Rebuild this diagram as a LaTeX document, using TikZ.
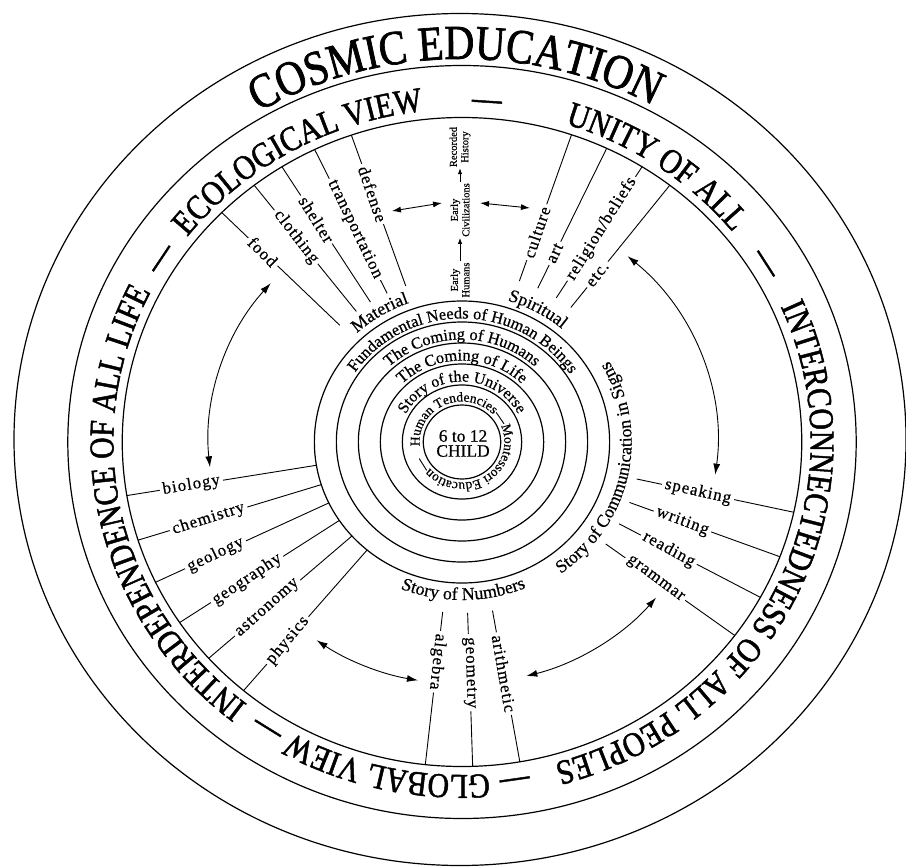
\documentclass[tikz,border=0pt]{standalone}
\usepackage{fontspec}
\setmainfont{Liberation Serif}[FakeBold=0.5]
\newfontfamily\bandfont[FakeStretch=0.85,FakeBold=1.4]{Liberation Serif}
\newfontfamily\spokefont[LetterSpace=6,FakeBold=0.5]{Liberation Serif}
\usetikzlibrary{decorations.text,arrows.meta}

\newcommand\fCosmic{\bandfont\fontsize{49}{50}\selectfont}
\newcommand\fBand{\bandfont\fontsize{35}{37}\selectfont}
\newcommand\fRing{\fontsize{16.5}{17}\selectfont}
\newcommand\fUniv{\fontsize{16}{17}\selectfont}
\newcommand\fTend{\fontsize{13.5}{14}\selectfont}
\newcommand\fMid{\fontsize{18}{19}\selectfont}
\newcommand\fChild{\fontsize{17.5}{15}\selectfont}
\newcommand\fSpoke{\spokefont\fontsize{17}{18}\selectfont}
\newcommand\fTiny{\fontsize{10.5}{11.5}\selectfont}

% clockwise text (tops outward): font, text, centre angle, half span, radius
\newcommand\cwtext[5]{%
  \path[decorate, decoration={text along path, text={|#1|#2}, text align=center}]
    ({#3+#4}:#5) arc[start angle={#3+#4}, end angle={#3-#4}, radius=#5];}
% counter-clockwise text (tops inward)
\newcommand\ccwtext[5]{%
  \path[decorate, decoration={text along path, text={|#1|#2}, text align=center}]
    ({#3-#4}:#5) arc[start angle={#3-#4}, end angle={#3+#4}, radius=#5];}

\begin{document}
\begin{tikzpicture}[x=1bp,y=1bp,
  ring/.style={line width=1.2bp},
  spokeline/.style={line width=0.9bp},
  spk/.style={font=\fSpoke, sloped, allow upside down, fill=white, inner xsep=3bp, inner ysep=0.5bp},
  bigarrow/.style={line width=0.9bp, {Latex[length=11bp,width=7bp]}-{Latex[length=11bp,width=7bp]}},
  dblarrow/.style={line width=0.9bp, {Latex[length=9bp,width=6bp]}-{Latex[length=9bp,width=6bp]}},
  smallarrow/.style={line width=0.8bp, -{Latex[length=6bp,width=4.5bp]}},
  hist/.style={font=\fTiny, rotate=90, align=center, inner sep=1bp},
]
\useasboundingbox (0,0) rectangle (906,-868);
\fill[white] (0,0) rectangle (906,-868);
\begin{scope}[shift={(462,-442)}, xscale=1.047]
  % ---- outer rings
  \draw[ring] (-1.9,2.5) circle[radius=426];
  \draw[ring] (0,0) circle[radius=376.5];
  \draw[ring] (0,0) circle[radius=324.5];
  % ---- inner rings
  \foreach \r in {141,120,99,78,57,37} \draw[ring] (0,0) circle[radius=\r];

  % ---- band texts
  \cwtext{\fCosmic}{COSMIC EDUCATION}{91}{75}{383}
  \cwtext{\fBand}{ECOLOGICAL VIEW}{119.5}{40}{333}
  \cwtext{\fBand}{—}{86}{8}{333}
  \cwtext{\fBand}{UNITY OF ALL}{55.7}{30}{333}
  \cwtext{\fBand}{—}{31.5}{8}{333}
  \cwtext{\fBand}{INTERCONNECTEDNESS OF ALL PEOPLES}{-25.1}{65}{333}
  \cwtext{\fBand}{—}{-81.5}{8}{333}
  \cwtext{\fBand}{GLOBAL VIEW}{-102.5}{30}{333}
  \cwtext{\fBand}{—}{-123}{8}{333}
  \cwtext{\fBand}{INTERDEPENDENCE OF ALL LIFE}{192.5}{50}{333}
  \cwtext{\fBand}{—}{147.5}{8}{333}

  % ---- ring texts
  \cwtext{\fRing}{Fundamental Needs of Human Beings}{89.5}{80}{123.5}
  \cwtext{\fRing}{The Coming of Humans}{90}{70}{102.5}
  \cwtext{\fRing}{The Coming of Life}{90}{70}{81.5}
  \cwtext{\fUniv}{Story of the Universe}{90}{85}{60.5}
  \path[decorate, decoration={text along path, text={|\fTend|Human Tendencies—Montessori Education—}, text align=left}]
    (186:40.5) arc[start angle=186, end angle=-174, radius=40.5];
  \node[font=\fChild, align=center, inner sep=0pt] (child) at (1,-1.5) {6 to 12\\CHILD};

  % ---- texts just outside the rings
  \cwtext{\fMid}{Material}{121.5}{25}{148}
  \cwtext{\fMid}{Spiritual}{61.2}{25}{148}
  \ccwtext{\fMid}{Story of Communication in Signs}{-12}{60}{162}
  \ccwtext{\fMid}{Story of Numbers}{-89.5}{40}{158}

  % ---- spokes: material needs (read inward)
  \foreach \a/\p/\t/\n in {135/0.348/food/sfood, 127.7/0.41/clothing/scloth, 122/0.39/shelter/sshel, 115.7/0.555/transportation/strans, 109/0.39/defense/sdef}
    \draw[spokeline] (\a:324.5) -- node[spk, pos=\p] (\n) {\t} (\a:165);
  % spiritual needs (read outward)
  \foreach \a/\p/\t/\n in {71.2/0.334/culture/scult, 64.8/0.25/art/sart, 58/0.527/{religion/beliefs}/srel, 52.3/0.27/etc./setc}
    \draw[spokeline] (\a:170) -- node[spk, pos=\p] (\n) {\t} (\a:324.5);
  % sciences (read inward)
  \foreach \a/\p/\t/\n in {189.5/0.34/biology/sbio, 197.6/0.384/chemistry/schem, 205.6/0.346/geology/sgeol, 213.8/0.422/geography/sgeog, 221.8/0.411/astronomy/sastr, 230/0.357/physics/sphys}
    \draw[spokeline] (\a:324.5) -- node[spk, pos=\p] (\n) {\t} (\a:141);
  % language (read outward)
  \foreach \a/\p/\t/\n in {-12.5/0.39/speaking/sspeak, -20.7/0.352/writing/swrit, -28.6/0.352/reading/sread, -36.6/0.384/grammar/sgram}
    \draw[spokeline] (\a:171) -- node[spk, pos=\p] (\n) {\t} (\a:324.5);
  % mathematics (read outward)
  \foreach \a/\p/\t/\n in {-96.2/0.326/algebra/salg, -88.2/0.39/geometry/sgeom, -80.2/0.417/arithmetic/sarith}
    \draw[spokeline] (\a:171) -- node[spk, pos=\p] (\n) {\t} (\a:324.5);

  % ---- curved double arrows
  \coordinate (ca1) at (139:242);
  \coordinate (cb1) at (49.6:244);
  \coordinate (cc1) at (235:242);
  \coordinate (cd1) at (-75.3:242);
  \draw[bigarrow] (ca1) arc[start angle=139, end angle=186, radius=242];
  \draw[bigarrow] (cb1) arc[start angle=49.6, end angle=-7.7, radius=244];
  \draw[bigarrow] (cc1) arc[start angle=235, end angle=260, radius=242];
  \draw[bigarrow] (cd1) arc[start angle=-75.3, end angle=-40, radius=242];

  % ---- history column
  \node[hist] (eh) at (-1.9,162) {Early\\Humans};
  \node[hist] (ec) at (-1.9,232) {Early\\Civilizations};
  \node[hist] (rh) at (-1.9,295) {Recorded\\History};
  \draw[smallarrow] (eh) -- (ec);
  \draw[smallarrow] (ec) -- (rh);
  \coordinate (hl1) at (-66.9,231);
  \coordinate (hl2) at (-19.1,239);
  \coordinate (hr1) at (17.2,239);
  \coordinate (hr2) at (64.9,234);
  \draw[dblarrow] (hl1) -- (hl2);
  \draw[dblarrow] (hr1) -- (hr2);
\end{scope}
\end{tikzpicture}
\end{document}
